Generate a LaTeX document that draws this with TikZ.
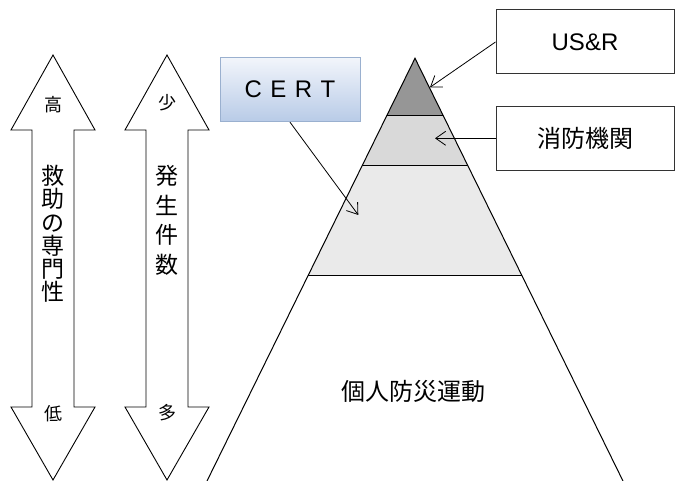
\documentclass[tikz,border=0pt]{standalone}
\usepackage{fontspec}
\setmainfont{Liberation Sans}
\newfontfamily\jp{Noto Sans CJK JP}
\usetikzlibrary{arrows.meta}
\definecolor{topgray}{HTML}{969696}
\definecolor{midgray}{HTML}{D9D9D9}
\definecolor{lowgray}{HTML}{EAEAEA}
\definecolor{certtop}{HTML}{F2F5FB}
\definecolor{certbot}{HTML}{B8CBE7}
\definecolor{certline}{HTML}{9AB0CF}
\tikzset{
  labelbox/.style={draw=black!80, line width=1pt, fill=white, minimum width=178pt, minimum height=64pt, inner sep=0pt},
  jplabel/.style={font={\jp\fontsize{24}{28}\selectfont}},
  smalljp/.style={font={\jp\fontsize{18}{20}\selectfont}},
  pointer/.style={line width=0.8pt, -{Straight Barb[length=10pt,width=14pt,line width=0.8pt]}},
  outline/.style={draw=black, line width=0.9pt, fill=white},
}
\begin{document}
\begin{tikzpicture}[x=1pt,y=-1pt]
\useasboundingbox (0,0) rectangle (678,481);
\fill[white] (0,0) rectangle (678,481);

% double arrows
\foreach \cx in {53,167}{
  \draw[outline] (\cx,55) -- (\cx+42,130) -- (\cx+21,130) -- (\cx+21,407) -- (\cx+42,407) -- (\cx,480)
    -- (\cx-42,407) -- (\cx-21,407) -- (\cx-21,130) -- (\cx-42,130) -- cycle;
}
\node[smalljp] (hi) at (53,105) {高};
\node[smalljp] (lo) at (53,414) {低};
\node[smalljp] (few) at (167,103) {少};
\node[smalljp] (many) at (167,413) {多};
\node[font={\jp\fontsize{23}{23.2}\selectfont}, align=center, inner sep=0pt] (expert) at (53,234) {救\\助\\の\\専\\門\\性};
\node[font={\jp\fontsize{23}{29.6}\selectfont}, align=center, inner sep=0pt] (count) at (167,220.5) {発\\生\\件\\数};

% pyramid
\coordinate (apex) at (415,58.3);
\coordinate (bl) at (207,481);
\coordinate (br) at (623,481);
\begin{scope}
  \clip (apex) -- (br) -- (bl) -- cycle;
  \fill[topgray] (300,50) rectangle (540,115.7);
  \fill[midgray] (300,115.7) rectangle (540,165.7);
  \fill[lowgray] (300,165.7) rectangle (540,275.7);
  \draw[line width=1.3pt] (300,115.7) -- (540,115.7);
  \draw[line width=1.3pt] (300,165.7) -- (540,165.7);
  \draw[line width=1.3pt] (300,275.7) -- (540,275.7);
\end{scope}
\draw[line width=1pt] (bl) -- (apex) -- (br);
\node[jplabel] (base) at (413,391.5) {個人防災運動};

% boxes
\node[labelbox, font={\fontsize{24}{28}\selectfont}] (usr) at (585,42) {US\&R};
\node[labelbox, jplabel] (fire) at (585,138.3) {消防機関};
\node[draw=certline, line width=1pt, top color=certtop, bottom color=certbot, minimum width=140pt, minimum height=64.4pt, inner sep=0pt, font={\fontsize{24}{28}\selectfont}] (cert) at (290,89.5) {C\hspace{8.5pt}E\hspace{8.5pt}R\hspace{8.5pt}T};

% pointers
\coordinate (usrtip) at (430,87.3);
\coordinate (firetip) at (435,138.3);
\coordinate (certtip) at (358.3,215);
\draw[pointer] (usr.west) -- (usrtip);
\draw[pointer] (fire.west) -- (firetip);
\draw[pointer] (cert.south) -- (certtip);
\end{tikzpicture}
\end{document}
